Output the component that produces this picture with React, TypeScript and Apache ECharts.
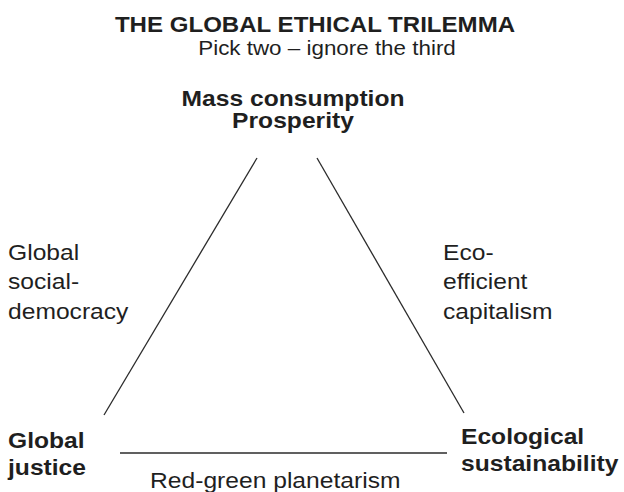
import React, { useEffect, useRef } from "react";
import * as echarts from "echarts";

// Triangle edges in page-pixel space (x right, y down)
const leftEdge: number[][] = [[257, 158], [104, 415]];
const rightEdge: number[][] = [[317, 158], [464, 413]];
const baseEdge: number[][] = [[120, 453], [447, 453]];

const titleText = "THE GLOBAL ETHICAL TRILEMMA";
const subtitleText = "Pick two – ignore the third";
const vertexTop = ["Mass consumption", "Prosperity"];
const vertexLeft = ["Global", "justice"];
const vertexRight = ["Ecological", "sustainability"];
const edgeLeft = ["Global", "social-", "democracy"];
const edgeRight = ["Eco-", "efficient", "capitalism"];
const edgeBase = ["Red-green planetarism"];

const FONT = '"Liberation Sans", Arial, Helvetica, sans-serif';
const SX = 1.12;
const INK = "#1f1f1f";

function txt(
  lines: string[],
  x: number,
  y: number,
  size: number,
  bold: boolean,
  align: string,
  lineHeight: number
) {
  return {
    type: "text",
    x,
    y,
    scaleX: SX,
    scaleY: 1,
    silent: true,
    style: {
      x: 0,
      y: 0,
      text: lines.join("\n"),
      fontFamily: FONT,
      fontSize: size,
      fontWeight: bold ? "bold" : "normal",
      fill: INK,
      align,
      textAlign: align,
      verticalAlign: "middle",
      textVerticalAlign: "middle",
      lineHeight,
    },
  };
}

export default function App() {
  const ref = useRef<HTMLDivElement>(null);
  useEffect(() => {
    if (!ref.current) return;
    const chart = echarts.init(ref.current, null, { renderer: "svg" });
    const lineStyle = { color: "#2b2b2b", width: 1.3 };
    const mkSeries = (d: number[][]) => ({
      type: "line",
      data: d,
      symbol: "none",
      lineStyle,
      silent: true,
    });
    chart.setOption({
      animation: false,
      backgroundColor: "#ffffff",
      grid: { left: 0, right: 0, top: 0, bottom: 0 },
      xAxis: { type: "value", min: 0, max: 624, show: false },
      yAxis: { type: "value", min: 0, max: 492, inverse: true, show: false },
      series: [mkSeries(leftEdge), mkSeries(rightEdge), mkSeries(baseEdge)],
      graphic: [
        txt([titleText], 315, 24.5, 21.5, true, "center", 24),
        txt([subtitleText], 327, 48, 20, false, "center", 24),
        txt(vertexTop, 293, 109, 22, true, "center", 22),
        txt(edgeLeft, 8, 281.5, 22, false, "left", 29.5),
        txt(edgeRight, 443, 281.5, 22, false, "left", 29.5),
        txt(vertexLeft, 8, 454, 22, true, "left", 27.5),
        txt(vertexRight, 461, 449.5, 22, true, "left", 27),
        txt(edgeBase, 150, 480.5, 22, false, "left", 24),
      ],
    });
    return () => chart.dispose();
  }, []);
  return (
    <div
      ref={ref}
      style={{ position: "fixed", left: 0, top: 0, width: 624, height: 492 }}
    />
  );
}
